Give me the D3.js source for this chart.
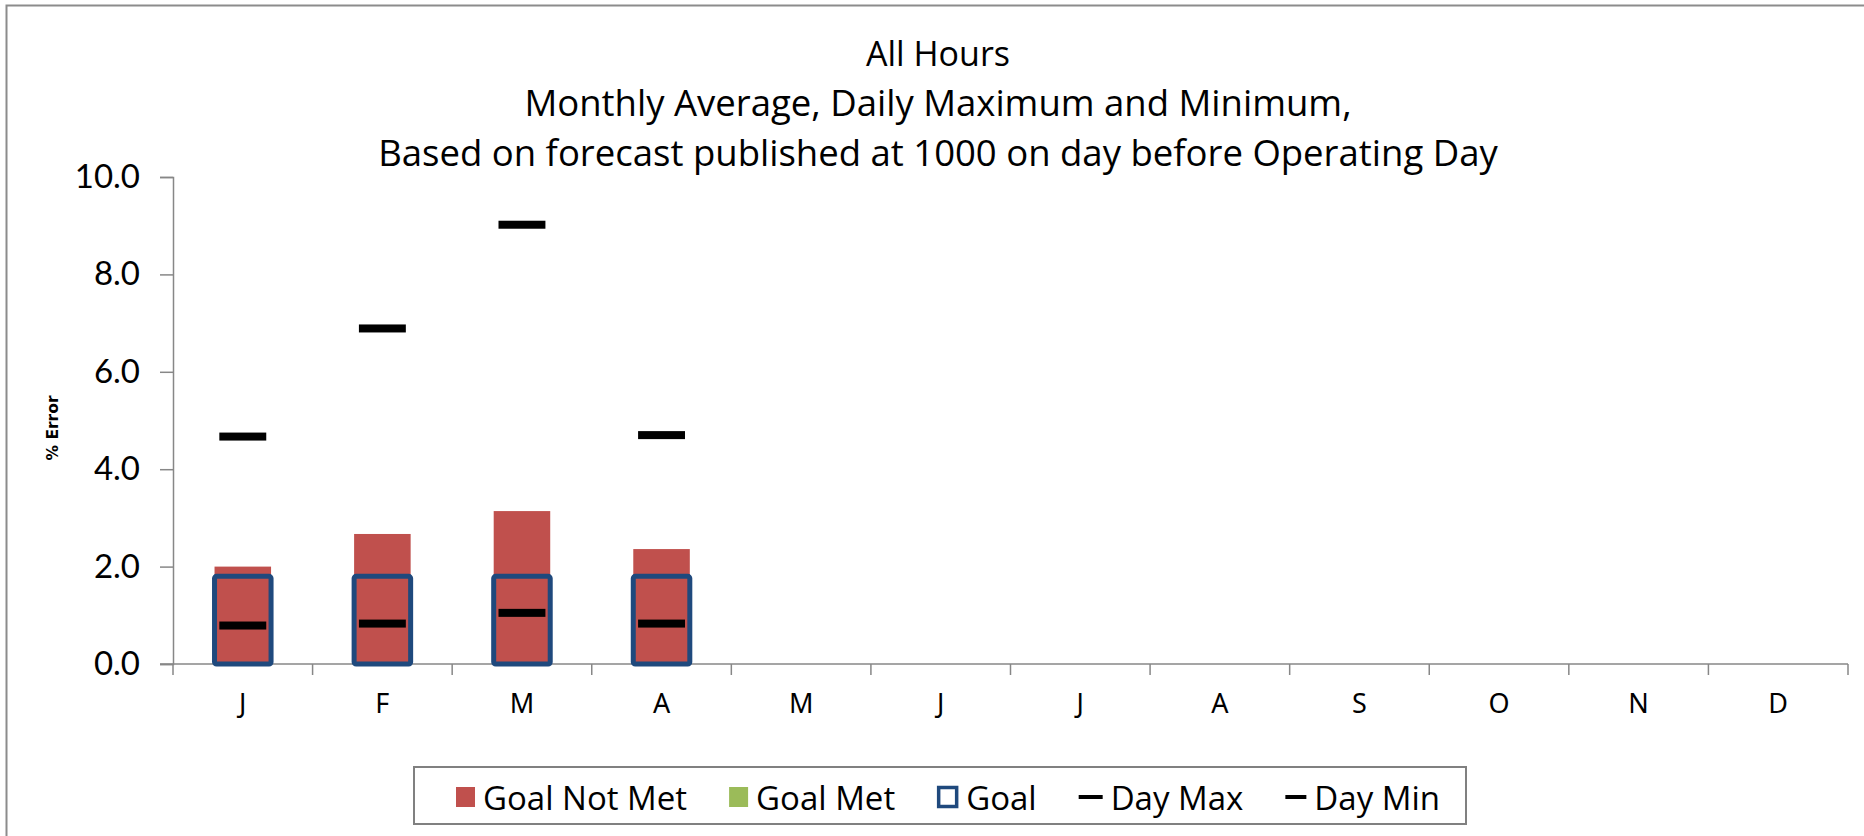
<!DOCTYPE html>
<html>
<head>
<meta charset="utf-8">
<script src="https://cdn.jsdelivr.net/npm/d3@7"></script>
<style>
  body { margin: 0; background: #fff; }
  svg { display: block; font-family: "Open Sans", Lato, sans-serif; }
</style>
</head>
<body>
<svg id="chart" width="1864" height="836"></svg>
<script>
const months = ["J","F","M","A","M","J","J","A","S","O","N","D"];
const avgError = [2.0, 2.67, 3.14, 2.36];   // monthly average % error
const goal = [1.8, 1.8, 1.8, 1.8];
const dayMax = [4.67, 6.89, 9.02, 4.70];
const dayMin = [0.79, 0.83, 1.05, 0.83];
const yTicks = [0, 2, 4, 6, 8, 10];
const titleLines = [
  "All Hours",
  "Monthly Average, Daily Maximum and Minimum,",
  "Based on forecast published at 1000 on day before Operating Day"
];
const legendItems = ["Goal Not Met", "Goal Met", "Goal", "Day Max", "Day Min"];

const red = "#C0504D", green = "#9BBB59", blue = "#1F497D", axisGrey = "#878787";

const svg = d3.select("#chart");
const margin = {left: 173, right: 1848, top: 177, bottom: 664};

// outer frame (only top/left visible in the picture)
svg.append("rect").attr("x", 6.5).attr("y", 5.5).attr("width", 1900).attr("height", 900)
  .attr("fill", "none").attr("stroke", "#8c8c8c").attr("stroke-width", 2);

const x = d3.scaleBand().domain(d3.range(months.length)).range([margin.left, margin.right]);
const y = d3.scaleLinear().domain([0, 10]).range([margin.bottom, margin.top]);
const barW = x.bandwidth() * 0.405;
const cx = i => x(i) + x.bandwidth() / 2;

// title
svg.append("g").selectAll("text").data(titleLines).enter().append("text")
  .attr("x", 938).attr("y", (d, i) => 66 + i * 50)
  .attr("text-anchor", "middle").attr("font-size", (d, i) => i == 0 ? 34 : 36.5).attr("fill", "#000")
  .text(d => d);

// y axis
const yAxis = svg.append("g").attr("transform", `translate(${margin.left},0)`)
  .call(d3.axisLeft(y).tickValues(yTicks).tickFormat(d3.format(".1f")).tickSize(13).tickPadding(20));
yAxis.select(".domain").attr("stroke", axisGrey).attr("stroke-width", 1.5);
yAxis.selectAll(".tick line").attr("stroke", axisGrey).attr("stroke-width", 1.5);
yAxis.selectAll("text").attr("font-size", 33).attr("font-family", "Lato").attr("fill", "#000");

svg.append("text").attr("transform", `translate(53,428) rotate(-90)`)
  .attr("text-anchor", "middle").attr("dominant-baseline", "central")
  .attr("font-size", 15.5).attr("font-weight", "bold").attr("font-family", "'DejaVu Sans'")
  .text("% Error");

// x axis: ticks at category boundaries
const xAxis = svg.append("g").attr("transform", `translate(0,${margin.bottom})`);
xAxis.append("line").attr("x1", margin.left - 13).attr("x2", margin.right)
  .attr("stroke", axisGrey).attr("stroke-width", 1.5);
xAxis.selectAll(".tk").data(d3.range(months.length + 1)).enter().append("line")
  .attr("x1", i => margin.left + i * x.step()).attr("x2", i => margin.left + i * x.step())
  .attr("y1", 0).attr("y2", 11).attr("stroke", axisGrey).attr("stroke-width", 1.5);
xAxis.selectAll(".lbl").data(months).enter().append("text")
  .attr("x", (d, i) => cx(i)).attr("y", 49)
  .attr("text-anchor", "middle").attr("font-size", 27).attr("font-family", "'Noto Sans'")
  .text(d => d);

// bars
const idx = d3.range(avgError.length);
svg.append("g").selectAll("rect").data(idx).enter().append("rect")
  .attr("x", i => cx(i) - barW / 2).attr("width", barW)
  .attr("y", i => y(avgError[i])).attr("height", i => y(0) - y(avgError[i]))
  .attr("fill", i => avgError[i] > goal[i] ? red : green);

// goal boxes
svg.append("g").selectAll("rect").data(idx).enter().append("rect")
  .attr("x", i => cx(i) - barW / 2).attr("width", barW)
  .attr("y", i => y(goal[i])).attr("height", i => y(0) - y(goal[i]))
  .attr("fill", "none").attr("stroke", blue).attr("stroke-width", 5).attr("rx", 2);

// day max / min dashes
const dashW = barW * 0.83;
[dayMax, dayMin].forEach(arr => {
  svg.append("g").selectAll("rect").data(idx).enter().append("rect")
    .attr("x", i => cx(i) - dashW / 2).attr("width", dashW)
    .attr("y", i => y(arr[i]) - 4).attr("height", 8).attr("fill", "#000");
});

// legend
const lg = svg.append("g");
lg.append("rect").attr("x", 414).attr("y", 767).attr("width", 1052).attr("height", 57)
  .attr("fill", "#fff").attr("stroke", "#808080").attr("stroke-width", 2);
let lx = 456;
const ly = 797;
legendItems.forEach((name, i) => {
  const g = lg.append("g");
  let symW;
  if (i < 2) {
    g.append("rect").attr("x", lx).attr("y", ly - 10).attr("width", 19).attr("height", 20)
      .attr("fill", i == 0 ? red : green);
    symW = 19;
  } else if (i == 2) {
    g.append("rect").attr("x", lx + 1.5).attr("y", ly - 9.5).attr("width", 18).attr("height", 19)
      .attr("fill", "#fff").attr("stroke", blue).attr("stroke-width", 3.5);
    symW = 21;
  } else {
    g.append("rect").attr("x", lx).attr("y", ly - 2).attr("width", i == 3 ? 24 : 21).attr("height", 4)
      .attr("fill", "#000");
    symW = i == 3 ? 24 : 21;
  }
  const t = g.append("text").attr("x", lx + symW + 8).attr("y", ly)
    .attr("dominant-baseline", "central").attr("font-size", 33).text(name);
  lx += symW + 8 + t.node().getComputedTextLength() + 42;
});
</script>
</body>
</html>
